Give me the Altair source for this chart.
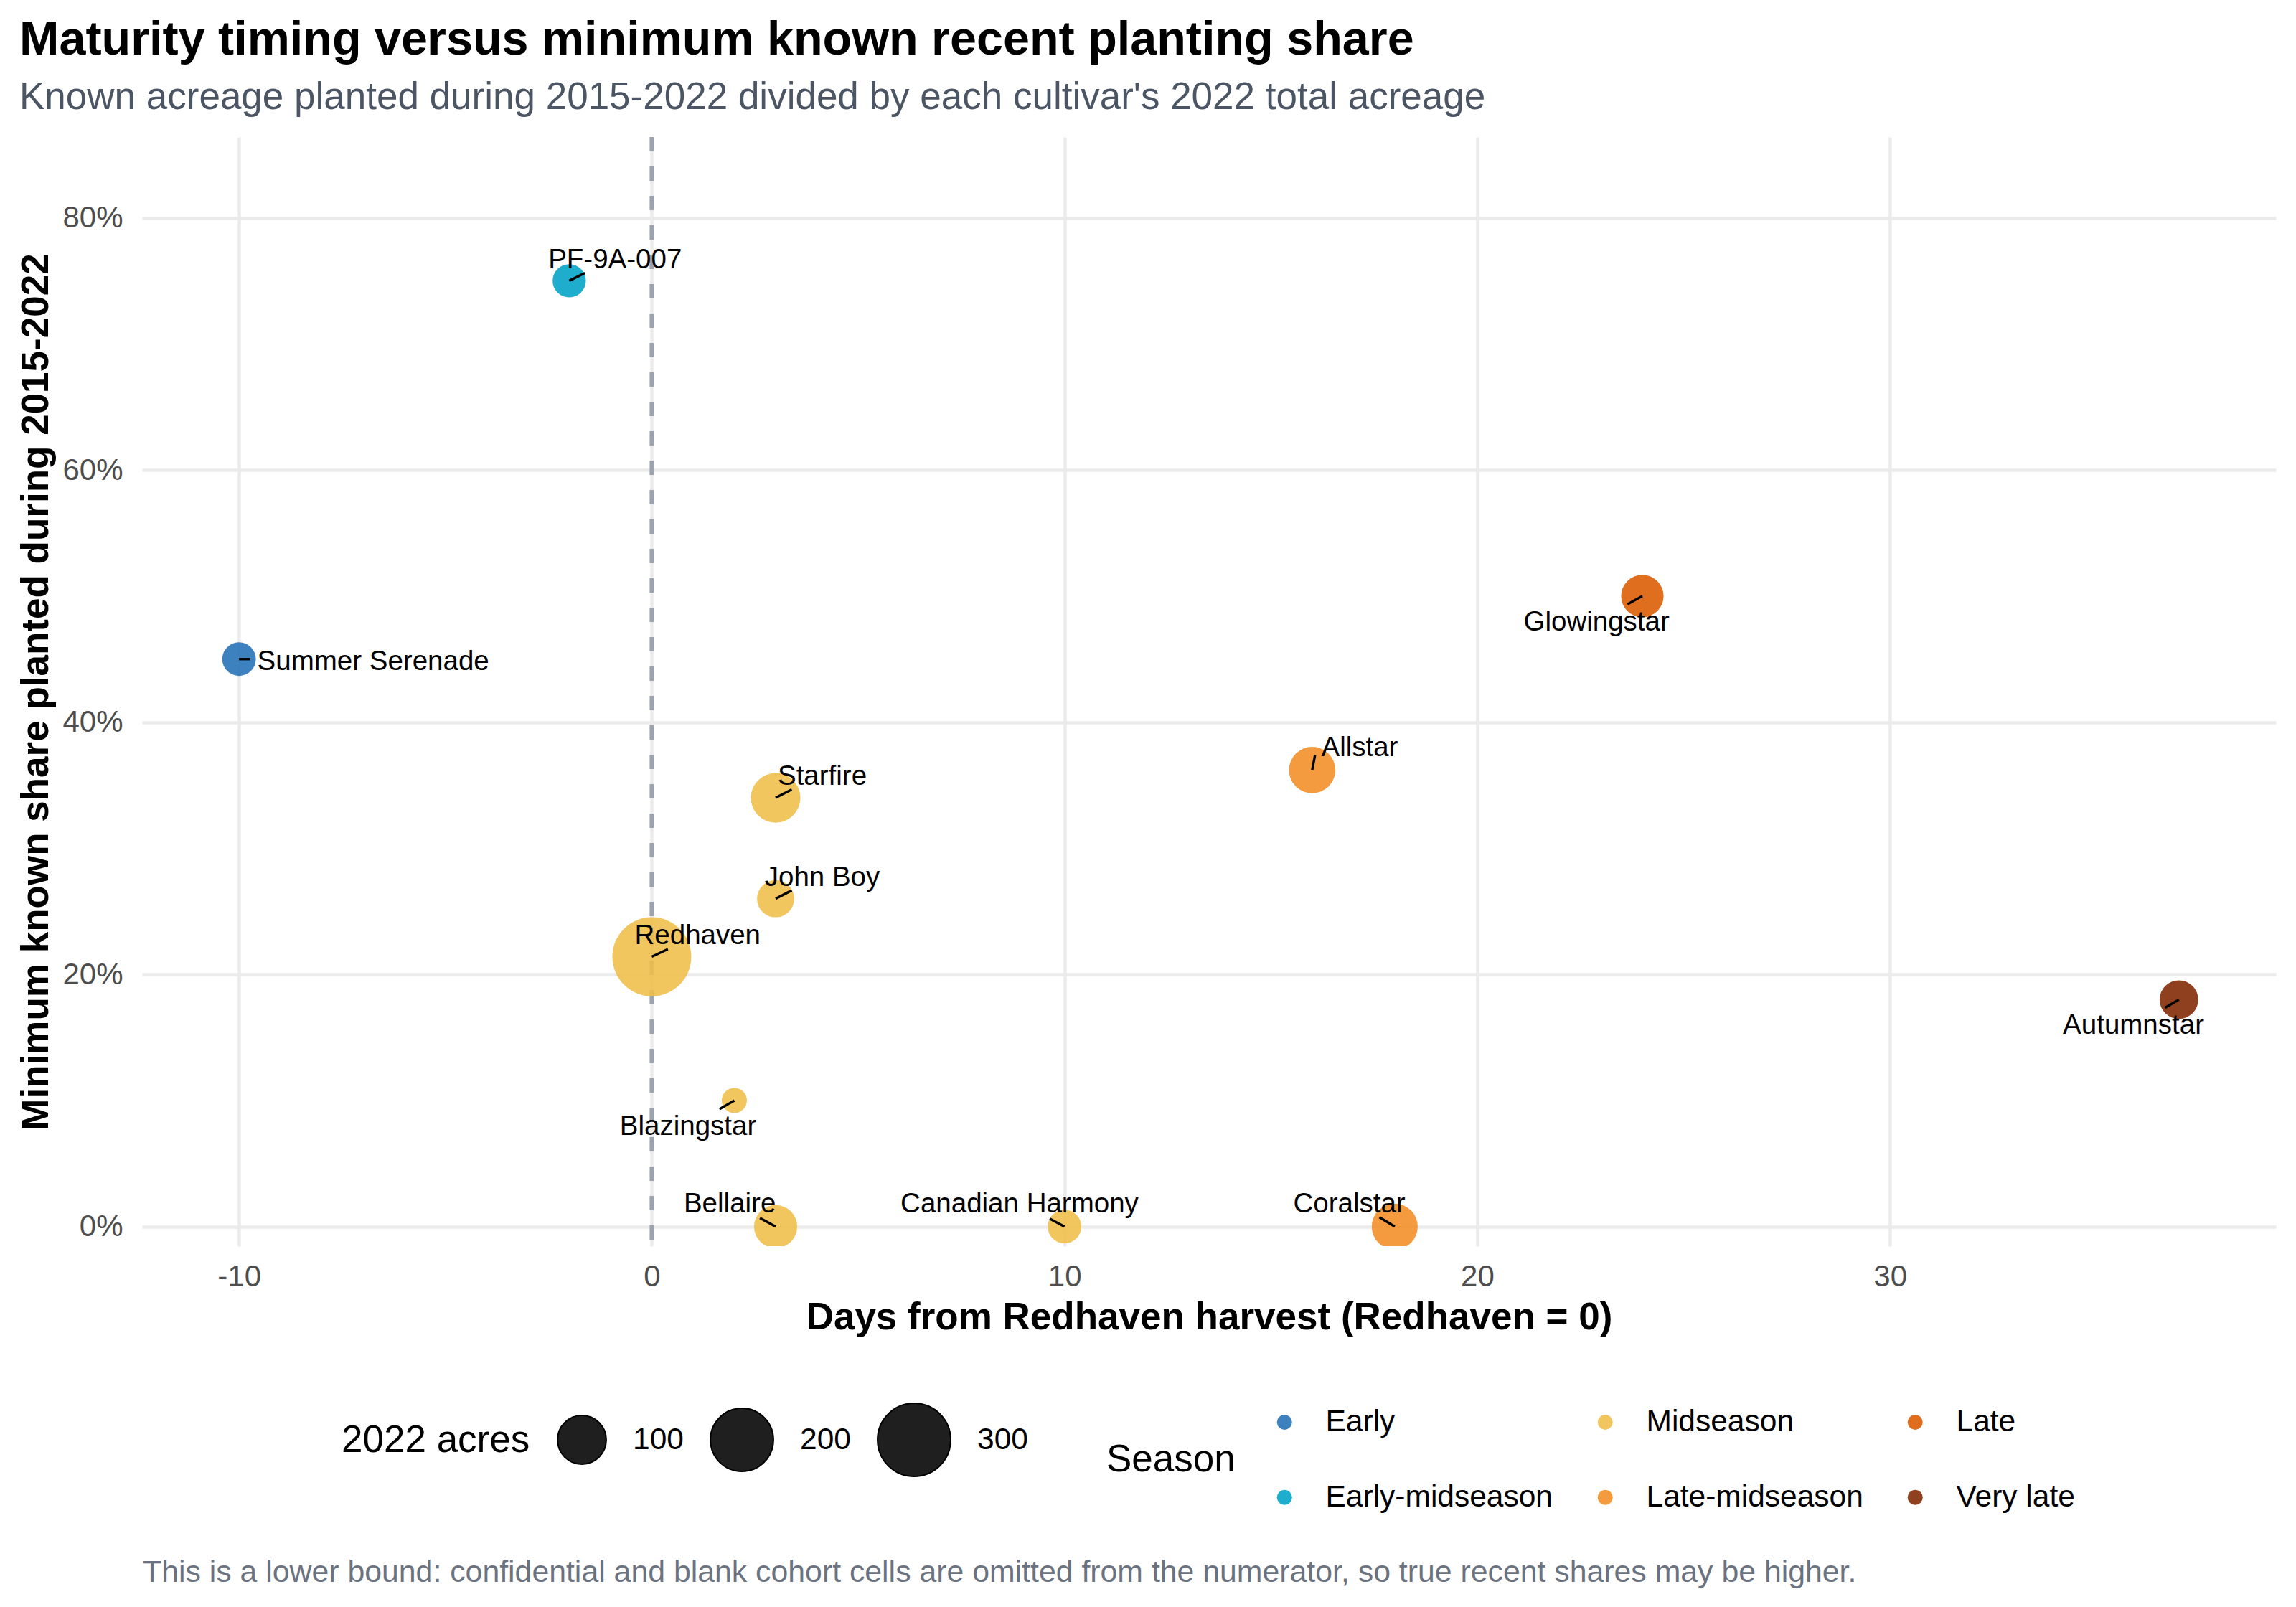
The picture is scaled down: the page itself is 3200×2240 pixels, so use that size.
import altair as alt
import pandas as pd

# ---- data ----
cultivars = ["Summer Serenade", "PF-9A-007", "Redhaven", "Blazingstar", "Starfire",
             "John Boy", "Bellaire", "Canadian Harmony", "Allstar", "Coralstar",
             "Glowingstar", "Autumnstar"]
seasons = ["Early", "Early-midseason", "Midseason", "Midseason", "Midseason",
           "Midseason", "Midseason", "Midseason", "Late-midseason", "Late-midseason",
           "Late", "Very late"]
days = [-10, -2, 0, 2, 3, 3, 3, 10, 16, 18, 24, 37]
share = [0.45, 0.75, 0.214, 0.10, 0.34, 0.26, 0.0, 0.0, 0.362, 0.0, 0.50, 0.18]
acres = [39, 38, 370, 20, 105, 50, 73, 39, 88, 86, 70, 55]

# repelled label anchors and segment ends (data units)
label_day = [-6.75, -0.89, 1.11, 0.88, 4.13, 4.13, 1.89, 8.91, 17.15, 16.9, 22.89, 35.9]
label_share = [0.4483, 0.7667, 0.2307, 0.0795, 0.3574, 0.277, 0.0182, 0.0182,
               0.38, 0.0178, 0.4795, 0.1597]
segment_day = [-9.73, -1.62, 0.39, 1.64, 3.39, 3.39, 2.62, 9.64, 16.07, 17.63, 23.64, 36.66]
segment_share = [0.45, 0.7562, 0.22, 0.0932, 0.3466, 0.2666, 0.0068, 0.0062,
                 0.3739, 0.0074, 0.4935, 0.1735]

season_order = ["Early", "Midseason", "Late", "Early-midseason", "Late-midseason", "Very late"]
season_colors = ["#236fb6", "#f0be49", "#dc5a00", "#00a2c7", "#f28d26", "#7f2600"]

x_ticks = [-10, 0, 10, 20, 30]
y_ticks = [0.0, 0.2, 0.4, 0.6, 0.8]
ref_day = [0]
size_legend_values = [100, 200, 300]

title_text = "Maturity timing versus minimum known recent planting share"
subtitle_text = "Known acreage planted during 2015-2022 divided by each cultivar's 2022 total acreage"
x_title = "Days from Redhaven harvest (Redhaven = 0)"
y_title = "Minimum known share planted during 2015-2022"
footnote = ["This is a lower bound: confidential and blank cohort cells are omitted "
            "from the numerator, so true recent shares may be higher."]

df = pd.DataFrame({
    "cultivar": cultivars, "season": seasons, "day": days, "share": share,
    "acres": acres, "label_day": label_day, "label_share": label_share,
    "segment_day": segment_day, "segment_share": segment_share,
})

FONT = "Liberation Sans"
W, H = 2974, 1546

x_scale = alt.Scale(domain=[-12.35, 39.35], nice=False, zero=False)
y_scale = alt.Scale(domain=[-0.0155, 0.864], nice=False, zero=False)

axis_style = dict(
    labelFont=FONT, titleFont=FONT, labelFontSize=42, labelColor="#4d4d4d",
    titleFontSize=53, titleFontWeight="bold", titleColor="black",
    gridColor="#ebebeb", gridWidth=4.5, domain=False, ticks=False, tickSize=0,
    labelOverlap=False,
)

x_axis = alt.Axis(values=x_ticks, title=x_title, labelPadding=22, titleY=115,
                  titleBaseline="alphabetic", labelFlush=False,
                  labelExpr="datum.value + ''", **axis_style)
y_axis = alt.Axis(values=y_ticks, format=".0%", title=y_title, labelPadding=27,
                  titleX=-132, titleY=H / 2, titleAngle=270, titleAlign="center",
                  titleBaseline="alphabetic", **axis_style)


def X(field):
    return alt.X(f"{field}:Q", scale=x_scale, axis=x_axis, title=x_title)


def Y(field):
    return alt.Y(f"{field}:Q", scale=y_scale, axis=y_axis, title=y_title)


ref = alt.Chart(pd.DataFrame({"day": ref_day})).mark_rule(
    color="#9ca3af", strokeWidth=6, strokeDash=[20, 21]
).encode(x=X("day"))

base = alt.Chart(df)

legend_common = dict(
    orient="none", direction="horizontal", titleOrient="left",
    titleFontSize=53, titleFontWeight="normal", titleColor="black",
    titleFont=FONT, labelFont=FONT, labelFontSize=42.5, labelColor="black",
    titleAnchor="middle", titleBaseline="middle", padding=0,
    labelLimit=2000, titleLimit=2000, symbolType="circle",
)

points = base.mark_circle(opacity=0.88, clip=True).encode(
    x=X("day"),
    y=Y("share"),
    size=alt.Size(
        "acres:Q",
        scale=alt.Scale(type="pow", exponent=0.7, domain=[20, 370], range=[1225, 12100]),
        legend=alt.Legend(
            title="2022 acres", legendX=278, legendY=1764, values=size_legend_values,
            symbolFillColor="#1f1f1f", symbolStrokeColor="#000000",
            symbolStrokeWidth=2, symbolOpacity=1,
            labelOffset=36, columnPadding=33, titlePadding=37,
            **legend_common,
        ),
    ),
    color=alt.Color(
        "season:N",
        scale=alt.Scale(domain=season_order, range=season_colors),
        legend=alt.Legend(
            title="Season", legendX=1344, legendY=1770, columns=3,
            symbolSize=441, symbolOpacity=0.88,
            labelOffset=36, columnPadding=51, rowPadding=62, titlePadding=47,
            **legend_common,
        ),
    ),
)

segments = base.mark_rule(color="black", strokeWidth=3.4).encode(
    x=X("day"), y=Y("share"), x2="segment_day:Q", y2="segment_share:Q"
)

labels = base.mark_text(font=FONT, fontSize=38.5, color="black", align="center",
                        baseline="middle").encode(
    x=X("label_day"), y=Y("label_share"), text="cultivar:N"
)

note = alt.Chart(pd.DataFrame({"note": footnote})).mark_text(
    font=FONT, fontSize=42.8, color="#6b7280", align="left", baseline="alphabetic"
).encode(x=alt.value(1), y=alt.value(2014), text="note:N")

chart = alt.layer(ref, points, segments, labels, note).properties(
    width=W, height=H,
    background="white",
    autosize=alt.AutoSizeParams(type="none"),
    padding={"left": 190, "top": 183, "right": 20, "bottom": 495},
    title=alt.Title(
        text=title_text, subtitle=subtitle_text, anchor="start", frame="group",
        dx=-171, offset=25, fontSize=66.5, fontWeight="bold", color="black",
        font=FONT, subtitleFont=FONT, subtitleFontSize=53,
        subtitleColor="#4b5563", subtitlePadding=21,
    ),
).configure_axis(**axis_style).configure_view(strokeWidth=0)

chart.save("out.html", embed_options={"renderer": "svg", "actions": False})
